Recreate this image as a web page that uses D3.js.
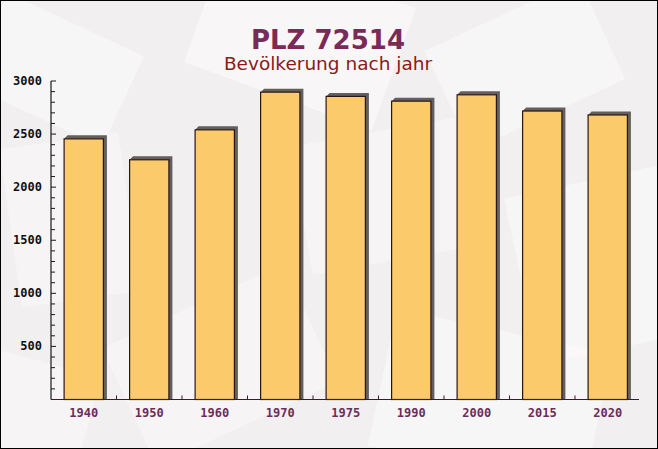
<!DOCTYPE html>
<html>
<head>
<meta charset="utf-8">
<script src="https://cdn.jsdelivr.net/npm/d3@7"></script>
<style>
  html, body { margin: 0; padding: 0; background: #fff; }
  svg { display: block; }
</style>
</head>
<body>
<svg id="chart" width="658" height="449"></svg>
<script>
const categories = ["1940", "1950", "1960", "1970", "1975", "1990", "2000", "2015", "2020"];
const population = [2455, 2258, 2540, 2895, 2855, 2810, 2870, 2717, 2680];
const yTicks = [500, 1000, 1500, 2000, 2500, 3000];
const titleText = "PLZ 72514";
const subtitleText = "Bevölkerung nach jahr";

const W = 658, H = 449;
const svg = d3.select("#chart");

// background
svg.append("rect").attr("width", W).attr("height", H).attr("fill", "#f1efef");
const bg = svg.append("g").attr("fill", "#fbfafa");
const shapes = [
  {x: -20, y: 20, w: 150, h: 100, r: 25, o: 0.6},
  {x: 200, y: -30, w: 200, h: 130, r: 20, o: 0.7},
  {x: 440, y: 10, w: 170, h: 110, r: -25, o: 0.6},
  {x: 10, y: 140, w: 120, h: 160, r: -8, o: 0.5},
  {x: 300, y: 130, w: 180, h: 130, r: -10, o: 0.5},
  {x: 520, y: 180, w: 160, h: 170, r: -12, o: 0.6},
  {x: 120, y: 300, w: 200, h: 130, r: -25, o: 0.5},
  {x: 380, y: 330, w: 220, h: 140, r: 12, o: 0.6},
  {x: -30, y: 360, w: 120, h: 100, r: 15, o: 0.5}
];
shapes.forEach(s => {
  bg.append("rect").attr("x", s.x).attr("y", s.y).attr("width", s.w).attr("height", s.h)
    .attr("opacity", s.o)
    .attr("transform", `rotate(${s.r},${s.x + s.w/2},${s.y + s.h/2})`);
});

// titles
svg.append("text").attr("x", 328).attr("y", 49).attr("text-anchor", "middle")
  .attr("font-family", "DejaVu Sans").attr("font-weight", "bold").attr("font-size", 26)
  .attr("fill", "#7a2a58").text(titleText);
svg.append("text").attr("x", 328).attr("y", 70).attr("text-anchor", "middle")
  .attr("font-family", "DejaVu Sans").attr("font-size", 18.5)
  .attr("fill", "#8b1a1a").text(subtitleText);

// scales
const x = d3.scaleBand().domain(categories).range([51, 640.5]).paddingInner(0.4).paddingOuter(0.2);
const y = d3.scaleLinear().domain([0, 3000]).range([399.5, 81]);

const depth = 3.5;
const bars = svg.append("g");
categories.forEach((c, i) => {
  const x0 = x(c), bw = x.bandwidth(), yt = y(population[i]), yb = y(0);
  bars.append("polygon")
    .attr("points", [[x0 + depth, yt - depth], [x0 + bw + depth, yt - depth], [x0 + bw + depth, yb], [x0 + bw, yb], [x0 + bw, yt], [x0, yt]].map(p => p.join(",")).join(" "))
    .attr("fill", "#645f5f");
  bars.append("rect").attr("x", x0).attr("y", yt).attr("width", bw).attr("height", yb - yt)
    .attr("fill", "#fbc762").attr("fill-opacity", 0.95)
    .attr("stroke", "#2a1515").attr("stroke-width", 1.2);
});

// y axis
const yAxis = svg.append("g").attr("transform", "translate(51,0)");
yAxis.append("line").attr("x1", 0).attr("x2", 0).attr("y1", y(3000)).attr("y2", y(0))
  .attr("stroke", "#1a1a1a").attr("stroke-width", 1.2);
const minor = d3.range(100, 3001, 100);
yAxis.selectAll("line.minor").data(minor).join("line").attr("class", "minor")
  .attr("x1", 0).attr("x2", d => d % 500 === 0 ? 5 : 4).attr("y1", d => y(d)).attr("y2", d => y(d))
  .attr("stroke", "#1a1a1a").attr("stroke-width", 1);
yAxis.selectAll("text").data(yTicks).join("text")
  .attr("x", -9).attr("y", d => y(d) + 4).attr("text-anchor", "end")
  .attr("font-family", "DejaVu Sans Mono").attr("font-weight", "bold").attr("font-size", 12)
  .attr("fill", "#111").text(d => d);

// x axis
const xAxis = svg.append("g").attr("transform", "translate(0,399.5)");
xAxis.append("line").attr("x1", 51).attr("x2", 639).attr("y1", 0).attr("y2", 0)
  .attr("stroke", "#3a1a30").attr("stroke-width", 1.2);
const bounds = categories.slice(1).map(c => x(c) - x.step() * x.paddingInner() / 2);
xAxis.selectAll("line.tick").data(bounds).join("line").attr("class", "tick")
  .attr("x1", d => d).attr("x2", d => d).attr("y1", 0).attr("y2", -4)
  .attr("stroke", "#3a1a30").attr("stroke-width", 1);
xAxis.selectAll("text").data(categories).join("text")
  .attr("x", d => x(d) + x.bandwidth() / 2).attr("y", 17).attr("text-anchor", "middle")
  .attr("font-family", "DejaVu Sans Mono").attr("font-weight", "bold").attr("font-size", 12)
  .attr("fill", "#6b2d5b").text(d => d);

// frame
svg.append("rect").attr("x", 0.5).attr("y", 0.5).attr("width", W - 1).attr("height", H - 1)
  .attr("fill", "none").attr("stroke", "#000").attr("stroke-width", 1);
</script>
</body>
</html>
